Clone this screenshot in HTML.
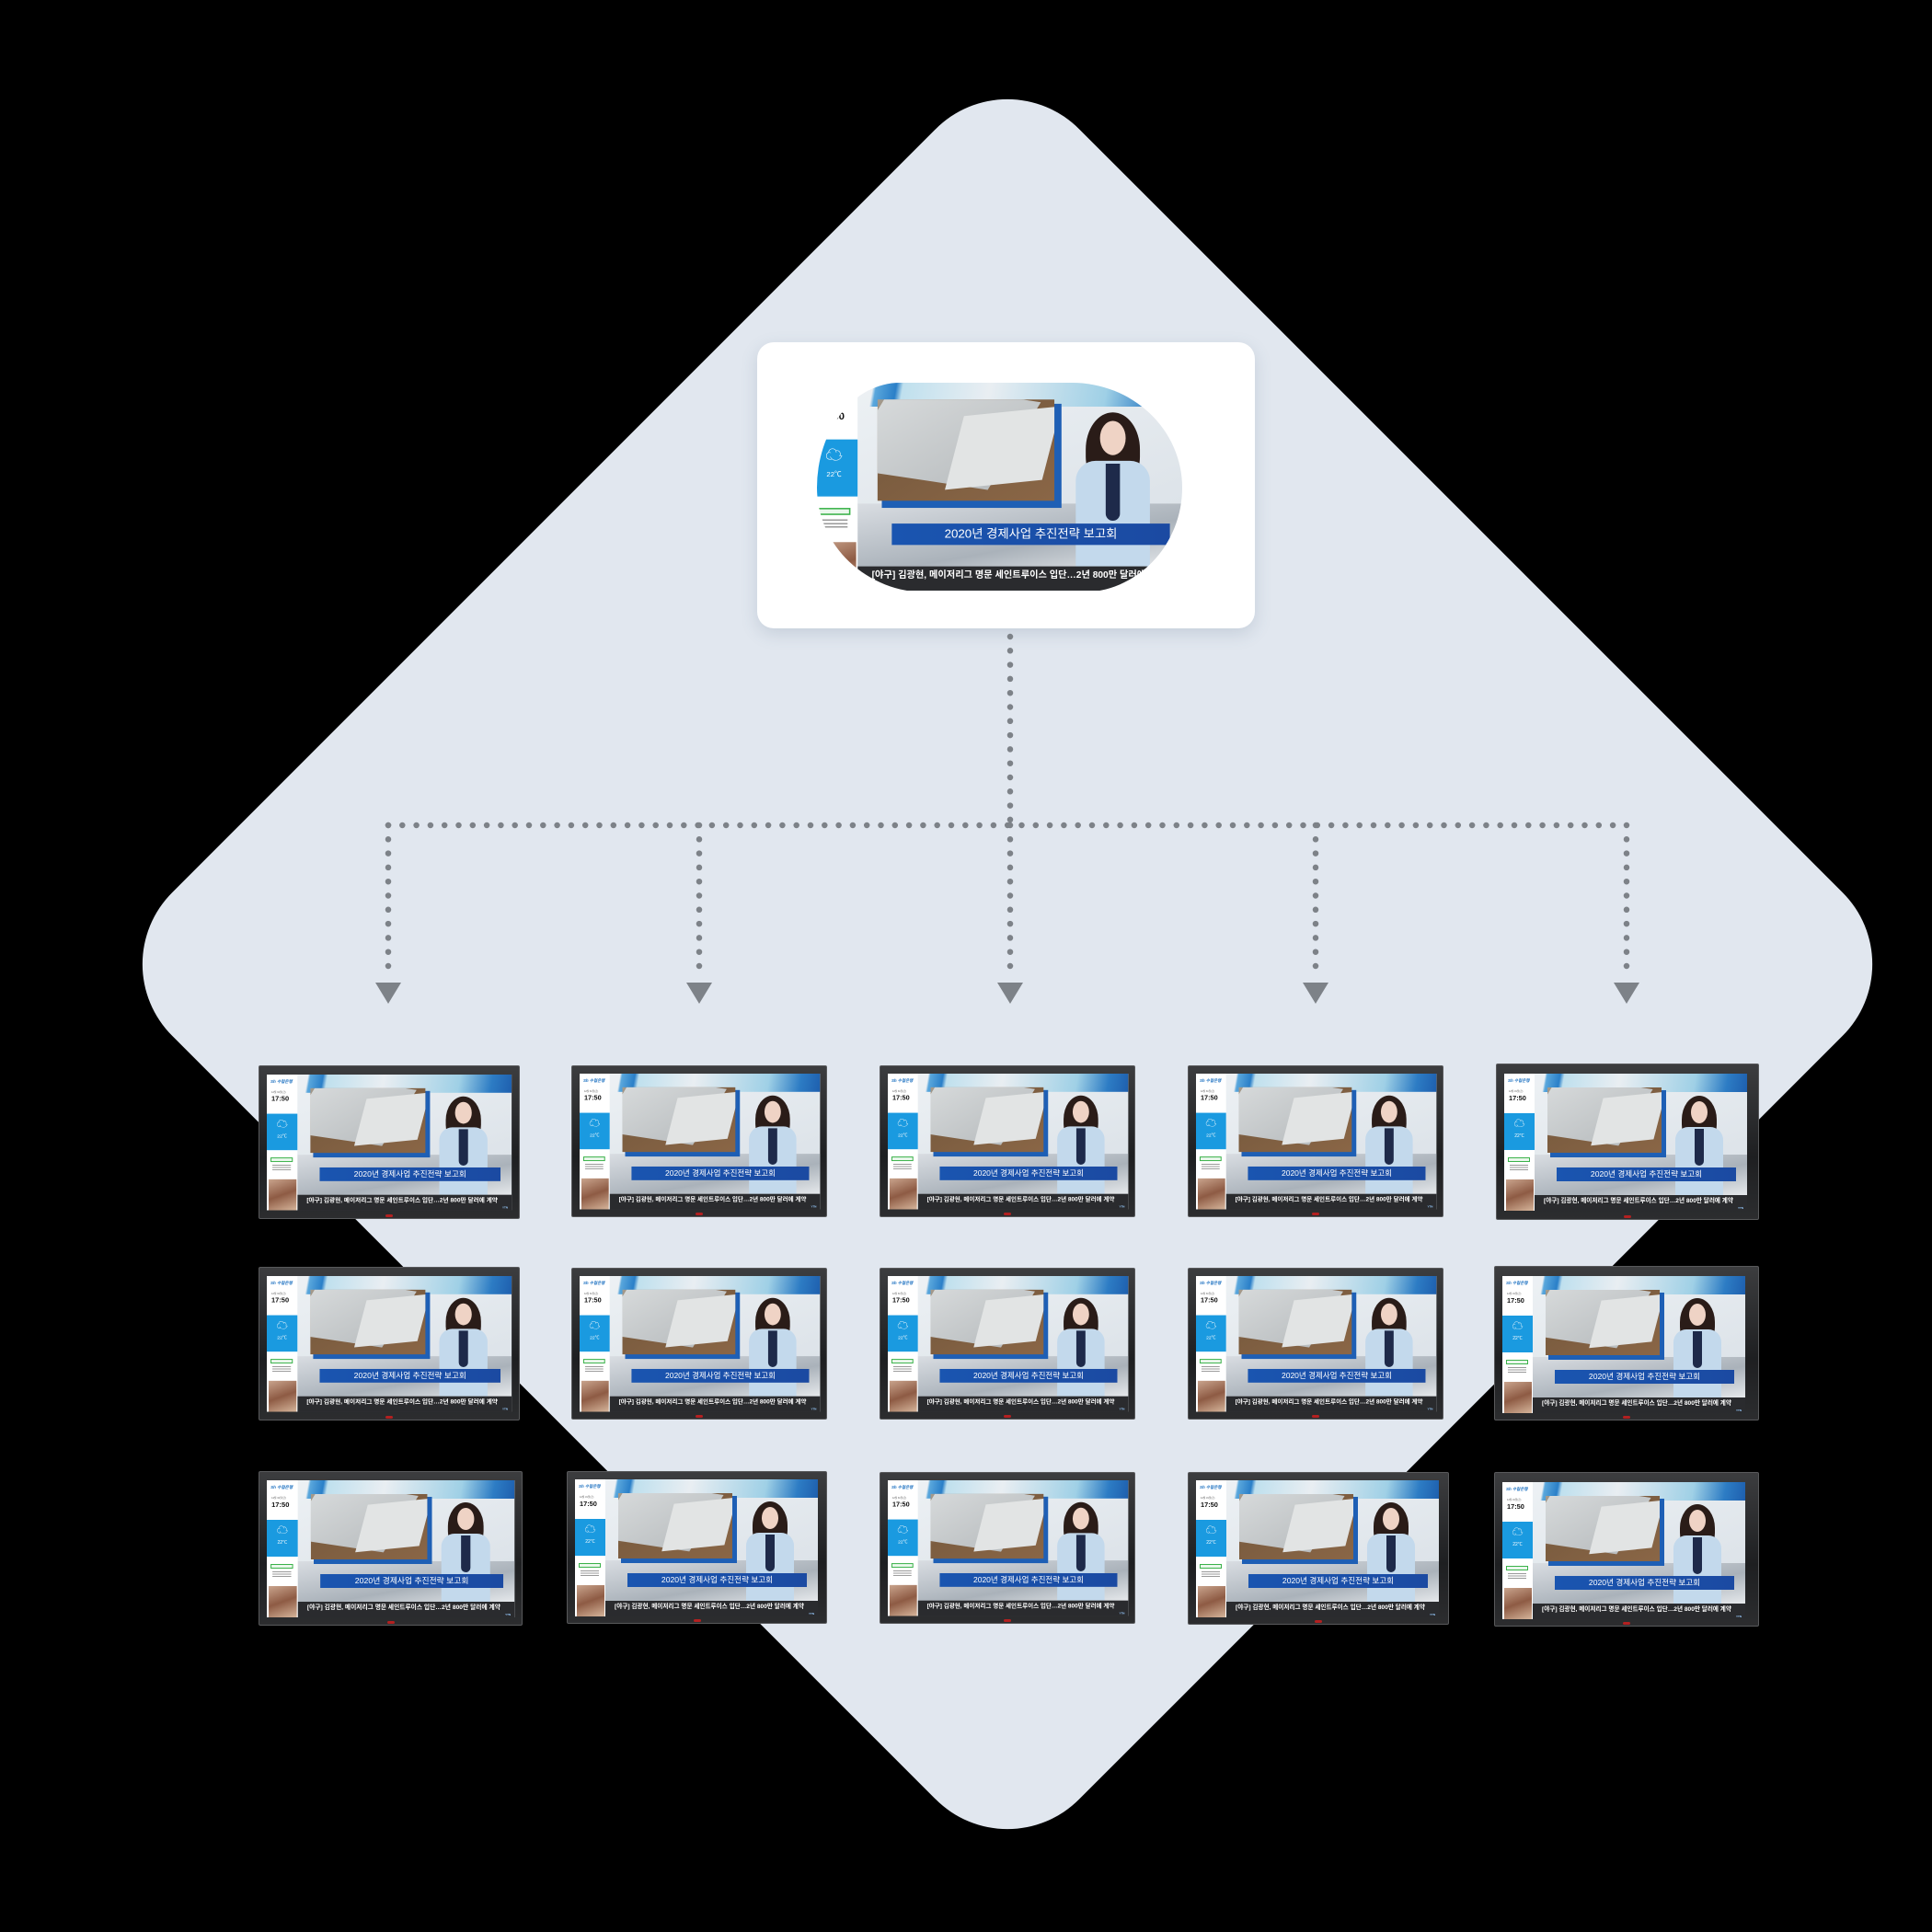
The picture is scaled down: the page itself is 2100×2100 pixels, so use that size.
<!DOCTYPE html>
<html><head><meta charset="utf-8">
<style>
*{margin:0;padding:0;box-sizing:border-box}
body{width:2100px;height:2100px;background:#000;position:relative;overflow:hidden;font-family:"Liberation Sans","Noto Sans CJK KR",sans-serif}
.dia{position:absolute;left:398px;top:351px;width:1394px;height:1394px;background:#e1e7ef;border-radius:110px;transform:rotate(45deg)}
.card{position:absolute;left:823px;top:372px;width:541px;height:311px;background:#fff;border-radius:18px;box-shadow:0 6px 18px rgba(80,100,130,.18)}
.mask{position:absolute;left:888px;top:416px;width:397px;height:228px;overflow:hidden;border-radius:90px 120px 110px 120px/114px 114px 114px 114px}
.tv{position:absolute;background:linear-gradient(#3c3d3f,#1e1f21 60%,#2c2d2f);border:1px solid #58595b;border-radius:2px}
.tv .led{position:absolute;left:50%;bottom:1px;width:8px;height:3px;margin-left:-4px;background:#b32020;border-radius:2px}
.s{position:absolute;left:0;top:0;width:264px;height:149px;overflow:hidden;transform-origin:0 0;background:linear-gradient(160deg,#eef2f5,#d7dee5)}
.s .stripe{position:absolute;left:33px;top:0;width:231px;height:20px;background:linear-gradient(100deg,transparent 5%,#5aa7dc 6%,#2a7fc8 12%,#bfe0ee 14%,#e9eef2 40%,#9fd0e6 75%,#2d7cc4 90%,#1e5fae)}
.s .floor{position:absolute;left:33px;top:88px;width:231px;height:44px;background:linear-gradient(170deg,#d9dde2,#aab2ba 60%,#e5e8eb)}
.s .bfr{position:absolute;left:50px;top:18px;width:126px;height:73px;background:#1e5fb5}
.s .book{position:absolute;left:47px;top:15px;width:124px;height:71px;background:linear-gradient(150deg,#a59c8f,#7c5d40 40%,#8a6646);overflow:hidden}
.s .pg{position:absolute;left:-10px;top:-6px;width:110px;height:62px;background:linear-gradient(135deg,#d8dbdc,#b9bdbf);transform:skewX(-25deg) rotate(8deg)}
.s .pg2{position:absolute;left:55px;top:8px;width:66px;height:52px;background:#e2e4e4;transform:skewX(-20deg) rotate(-6deg)}
.s .hair{position:absolute;left:193px;top:24px;width:38px;height:52px;background:#2a1c18;border-radius:50% 50% 40% 40%}
.s .face{position:absolute;left:203px;top:30px;width:18px;height:24px;background:#efd3c5;border-radius:50%}
.s .body{position:absolute;left:186px;top:58px;width:52px;height:74px;background:#c3d9ec;border-radius:14px 14px 0 0}
.s .in{position:absolute;left:207px;top:60px;width:10px;height:40px;background:#1e2a4a;border-radius:0 0 5px 5px}
.s .cap{position:absolute;left:57px;top:102px;width:195px;height:15px;background:linear-gradient(90deg,#1a55b0,#1b4aa2);color:#fff;font-size:8.6px;line-height:15px;text-align:center;white-space:nowrap}
.s .tick{position:absolute;left:33px;top:132px;width:231px;height:17px;background:#2a2b2e;color:#fff;font-size:6.6px;line-height:14px;padding-left:10px;white-space:nowrap;font-weight:bold}
.s .tick b{position:absolute;right:4px;bottom:1px;font-size:3px;line-height:4px;color:#9cf}
.s .side{position:absolute;left:0;top:0;width:33px;height:149px;background:#fff}
.s .logo{position:absolute;left:4px;top:5px;font-size:4.5px;color:#1a6fc0;font-style:italic;font-weight:bold;white-space:nowrap}
.s .dt{position:absolute;left:5px;top:17px;font-size:2.6px;color:#555}
.s .tm{position:absolute;left:5px;top:22px;font-size:7.4px;font-weight:bold;color:#111}
.s .wb{position:absolute;left:0;top:43px;width:33px;height:40px;background:#1a9ae0;color:#fff;text-align:center}
.s .wb i{display:block;font-style:normal;font-size:12px;line-height:14px;margin-top:4px}
.s .wb span{display:block;font-size:5px;margin-top:3px}
.s .gb{position:absolute;left:4px;top:91px;width:24px;height:5px;border:1px solid #3bb24a;background:#eaf7ec}
.s .tx{position:absolute;left:6px;top:99px;width:20px;height:6px;background:repeating-linear-gradient(#999 0 1px,transparent 1px 2.5px)}
.s .ad{position:absolute;left:2px;top:115px;width:30px;height:34px;background:linear-gradient(160deg,#c9a48d,#8e5b44 50%,#d5b49a)}
</style></head><body>
<div class="dia"></div>
<div class="card"></div>
<div class="mask"><div class="s" style="left:-7px;top:-5px;transform:scale(1.55)"><div class="stripe"></div><div class="floor"></div><div class="bfr"></div><div class="book"><div class="pg"></div><div class="pg2"></div></div><div class="hair"></div><div class="body"></div><div class="in"></div><div class="face"></div><div class="cap">2020년 경제사업 추진전략 보고회</div><div class="tick">[야구] 김광현, 메이저리그 명문 세인트루이스 입단…2년 800만 달러에 계약<b>YTN</b></div><div class="side"><div class="logo">Sh 수협은행</div><div class="dt">12월 31일(금)</div><div class="tm">17:50</div><div class="wb"><i>☁</i><span>22℃</span></div><div class="gb"></div><div class="tx"></div><div class="ad"></div></div></div></div>

<svg style="position:absolute;left:0;top:0" width="2100" height="2100">
<g stroke="#7d8288" stroke-width="6.5" stroke-linecap="round" stroke-dasharray="0 15.3" fill="none">
<line x1="1098" y1="692" x2="1098" y2="897"/>
<line x1="422" y1="897" x2="1768" y2="897"/>
<line x1="422" y1="897" x2="422" y2="1060"/>
<line x1="760" y1="897" x2="760" y2="1060"/>
<line x1="1098" y1="897" x2="1098" y2="1060"/>
<line x1="1430" y1="897" x2="1430" y2="1060"/>
<line x1="1768" y1="897" x2="1768" y2="1060"/>
</g>
<g fill="#7d8288">
<polygon points="408,1068 436,1068 422,1091"/>
<polygon points="746,1068 774,1068 760,1091"/>
<polygon points="1084,1068 1112,1068 1098,1091"/>
<polygon points="1416,1068 1444,1068 1430,1091"/>
<polygon points="1754,1068 1782,1068 1768,1091"/>
</g>
</svg>

<div class="tv" style="left:281px;top:1158px;width:284px;height:167px"><div class="s" style="left:8px;top:9px;transform:scale(1.008,0.99)"><div class="stripe"></div><div class="floor"></div><div class="bfr"></div><div class="book"><div class="pg"></div><div class="pg2"></div></div><div class="hair"></div><div class="body"></div><div class="in"></div><div class="face"></div><div class="cap">2020년 경제사업 추진전략 보고회</div><div class="tick">[야구] 김광현, 메이저리그 명문 세인트루이스 입단…2년 800만 달러에 계약<b>YTN</b></div><div class="side"><div class="logo">Sh 수협은행</div><div class="dt">12월 31일(금)</div><div class="tm">17:50</div><div class="wb"><i>☁</i><span>22℃</span></div><div class="gb"></div><div class="tx"></div><div class="ad"></div></div></div><div class="led"></div></div>
<div class="tv" style="left:621px;top:1158px;width:278px;height:165px"><div class="s" style="left:8px;top:8px;transform:scale(0.99,0.99)"><div class="stripe"></div><div class="floor"></div><div class="bfr"></div><div class="book"><div class="pg"></div><div class="pg2"></div></div><div class="hair"></div><div class="body"></div><div class="in"></div><div class="face"></div><div class="cap">2020년 경제사업 추진전략 보고회</div><div class="tick">[야구] 김광현, 메이저리그 명문 세인트루이스 입단…2년 800만 달러에 계약<b>YTN</b></div><div class="side"><div class="logo">Sh 수협은행</div><div class="dt">12월 31일(금)</div><div class="tm">17:50</div><div class="wb"><i>☁</i><span>22℃</span></div><div class="gb"></div><div class="tx"></div><div class="ad"></div></div></div><div class="led"></div></div>
<div class="tv" style="left:956px;top:1158px;width:278px;height:165px"><div class="s" style="left:8px;top:8px;transform:scale(0.99,0.99)"><div class="stripe"></div><div class="floor"></div><div class="bfr"></div><div class="book"><div class="pg"></div><div class="pg2"></div></div><div class="hair"></div><div class="body"></div><div class="in"></div><div class="face"></div><div class="cap">2020년 경제사업 추진전략 보고회</div><div class="tick">[야구] 김광현, 메이저리그 명문 세인트루이스 입단…2년 800만 달러에 계약<b>YTN</b></div><div class="side"><div class="logo">Sh 수협은행</div><div class="dt">12월 31일(금)</div><div class="tm">17:50</div><div class="wb"><i>☁</i><span>22℃</span></div><div class="gb"></div><div class="tx"></div><div class="ad"></div></div></div><div class="led"></div></div>
<div class="tv" style="left:1291px;top:1158px;width:278px;height:165px"><div class="s" style="left:8px;top:8px;transform:scale(0.99,0.99)"><div class="stripe"></div><div class="floor"></div><div class="bfr"></div><div class="book"><div class="pg"></div><div class="pg2"></div></div><div class="hair"></div><div class="body"></div><div class="in"></div><div class="face"></div><div class="cap">2020년 경제사업 추진전략 보고회</div><div class="tick">[야구] 김광현, 메이저리그 명문 세인트루이스 입단…2년 800만 달러에 계약<b>YTN</b></div><div class="side"><div class="logo">Sh 수협은행</div><div class="dt">12월 31일(금)</div><div class="tm">17:50</div><div class="wb"><i>☁</i><span>22℃</span></div><div class="gb"></div><div class="tx"></div><div class="ad"></div></div></div><div class="led"></div></div>
<div class="tv" style="left:1626px;top:1156px;width:286px;height:170px"><div class="s" style="left:8px;top:10px;transform:scale(1.0,1.0)"><div class="stripe"></div><div class="floor"></div><div class="bfr"></div><div class="book"><div class="pg"></div><div class="pg2"></div></div><div class="hair"></div><div class="body"></div><div class="in"></div><div class="face"></div><div class="cap">2020년 경제사업 추진전략 보고회</div><div class="tick">[야구] 김광현, 메이저리그 명문 세인트루이스 입단…2년 800만 달러에 계약<b>YTN</b></div><div class="side"><div class="logo">Sh 수협은행</div><div class="dt">12월 31일(금)</div><div class="tm">17:50</div><div class="wb"><i>☁</i><span>22℃</span></div><div class="gb"></div><div class="tx"></div><div class="ad"></div></div></div><div class="led"></div></div>

<div class="tv" style="left:281px;top:1377px;width:284px;height:167px"><div class="s" style="left:8px;top:9px;transform:scale(1.008,0.99)"><div class="stripe"></div><div class="floor"></div><div class="bfr"></div><div class="book"><div class="pg"></div><div class="pg2"></div></div><div class="hair"></div><div class="body"></div><div class="in"></div><div class="face"></div><div class="cap">2020년 경제사업 추진전략 보고회</div><div class="tick">[야구] 김광현, 메이저리그 명문 세인트루이스 입단…2년 800만 달러에 계약<b>YTN</b></div><div class="side"><div class="logo">Sh 수협은행</div><div class="dt">12월 31일(금)</div><div class="tm">17:50</div><div class="wb"><i>☁</i><span>22℃</span></div><div class="gb"></div><div class="tx"></div><div class="ad"></div></div></div><div class="led"></div></div>
<div class="tv" style="left:621px;top:1378px;width:278px;height:165px"><div class="s" style="left:8px;top:8px;transform:scale(0.99,0.99)"><div class="stripe"></div><div class="floor"></div><div class="bfr"></div><div class="book"><div class="pg"></div><div class="pg2"></div></div><div class="hair"></div><div class="body"></div><div class="in"></div><div class="face"></div><div class="cap">2020년 경제사업 추진전략 보고회</div><div class="tick">[야구] 김광현, 메이저리그 명문 세인트루이스 입단…2년 800만 달러에 계약<b>YTN</b></div><div class="side"><div class="logo">Sh 수협은행</div><div class="dt">12월 31일(금)</div><div class="tm">17:50</div><div class="wb"><i>☁</i><span>22℃</span></div><div class="gb"></div><div class="tx"></div><div class="ad"></div></div></div><div class="led"></div></div>
<div class="tv" style="left:956px;top:1378px;width:278px;height:165px"><div class="s" style="left:8px;top:8px;transform:scale(0.99,0.99)"><div class="stripe"></div><div class="floor"></div><div class="bfr"></div><div class="book"><div class="pg"></div><div class="pg2"></div></div><div class="hair"></div><div class="body"></div><div class="in"></div><div class="face"></div><div class="cap">2020년 경제사업 추진전략 보고회</div><div class="tick">[야구] 김광현, 메이저리그 명문 세인트루이스 입단…2년 800만 달러에 계약<b>YTN</b></div><div class="side"><div class="logo">Sh 수협은행</div><div class="dt">12월 31일(금)</div><div class="tm">17:50</div><div class="wb"><i>☁</i><span>22℃</span></div><div class="gb"></div><div class="tx"></div><div class="ad"></div></div></div><div class="led"></div></div>
<div class="tv" style="left:1291px;top:1378px;width:278px;height:165px"><div class="s" style="left:8px;top:8px;transform:scale(0.99,0.99)"><div class="stripe"></div><div class="floor"></div><div class="bfr"></div><div class="book"><div class="pg"></div><div class="pg2"></div></div><div class="hair"></div><div class="body"></div><div class="in"></div><div class="face"></div><div class="cap">2020년 경제사업 추진전략 보고회</div><div class="tick">[야구] 김광현, 메이저리그 명문 세인트루이스 입단…2년 800만 달러에 계약<b>YTN</b></div><div class="side"><div class="logo">Sh 수협은행</div><div class="dt">12월 31일(금)</div><div class="tm">17:50</div><div class="wb"><i>☁</i><span>22℃</span></div><div class="gb"></div><div class="tx"></div><div class="ad"></div></div></div><div class="led"></div></div>
<div class="tv" style="left:1624px;top:1376px;width:288px;height:168px"><div class="s" style="left:8px;top:10px;transform:scale(1.0,1.0)"><div class="stripe"></div><div class="floor"></div><div class="bfr"></div><div class="book"><div class="pg"></div><div class="pg2"></div></div><div class="hair"></div><div class="body"></div><div class="in"></div><div class="face"></div><div class="cap">2020년 경제사업 추진전략 보고회</div><div class="tick">[야구] 김광현, 메이저리그 명문 세인트루이스 입단…2년 800만 달러에 계약<b>YTN</b></div><div class="side"><div class="logo">Sh 수협은행</div><div class="dt">12월 31일(금)</div><div class="tm">17:50</div><div class="wb"><i>☁</i><span>22℃</span></div><div class="gb"></div><div class="tx"></div><div class="ad"></div></div></div><div class="led"></div></div>

<div class="tv" style="left:281px;top:1599px;width:287px;height:168px"><div class="s" style="left:8px;top:9px;transform:scale(1.02,1.0)"><div class="stripe"></div><div class="floor"></div><div class="bfr"></div><div class="book"><div class="pg"></div><div class="pg2"></div></div><div class="hair"></div><div class="body"></div><div class="in"></div><div class="face"></div><div class="cap">2020년 경제사업 추진전략 보고회</div><div class="tick">[야구] 김광현, 메이저리그 명문 세인트루이스 입단…2년 800만 달러에 계약<b>YTN</b></div><div class="side"><div class="logo">Sh 수협은행</div><div class="dt">12월 31일(금)</div><div class="tm">17:50</div><div class="wb"><i>☁</i><span>22℃</span></div><div class="gb"></div><div class="tx"></div><div class="ad"></div></div></div><div class="led"></div></div>
<div class="tv" style="left:616px;top:1599px;width:283px;height:166px"><div class="s" style="left:8px;top:8px;transform:scale(1.0,1.0)"><div class="stripe"></div><div class="floor"></div><div class="bfr"></div><div class="book"><div class="pg"></div><div class="pg2"></div></div><div class="hair"></div><div class="body"></div><div class="in"></div><div class="face"></div><div class="cap">2020년 경제사업 추진전략 보고회</div><div class="tick">[야구] 김광현, 메이저리그 명문 세인트루이스 입단…2년 800만 달러에 계약<b>YTN</b></div><div class="side"><div class="logo">Sh 수협은행</div><div class="dt">12월 31일(금)</div><div class="tm">17:50</div><div class="wb"><i>☁</i><span>22℃</span></div><div class="gb"></div><div class="tx"></div><div class="ad"></div></div></div><div class="led"></div></div>
<div class="tv" style="left:956px;top:1600px;width:278px;height:165px"><div class="s" style="left:8px;top:8px;transform:scale(0.99,0.99)"><div class="stripe"></div><div class="floor"></div><div class="bfr"></div><div class="book"><div class="pg"></div><div class="pg2"></div></div><div class="hair"></div><div class="body"></div><div class="in"></div><div class="face"></div><div class="cap">2020년 경제사업 추진전략 보고회</div><div class="tick">[야구] 김광현, 메이저리그 명문 세인트루이스 입단…2년 800만 달러에 계약<b>YTN</b></div><div class="side"><div class="logo">Sh 수협은행</div><div class="dt">12월 31일(금)</div><div class="tm">17:50</div><div class="wb"><i>☁</i><span>22℃</span></div><div class="gb"></div><div class="tx"></div><div class="ad"></div></div></div><div class="led"></div></div>
<div class="tv" style="left:1291px;top:1600px;width:284px;height:166px"><div class="s" style="left:8px;top:8px;transform:scale(1.0,1.0)"><div class="stripe"></div><div class="floor"></div><div class="bfr"></div><div class="book"><div class="pg"></div><div class="pg2"></div></div><div class="hair"></div><div class="body"></div><div class="in"></div><div class="face"></div><div class="cap">2020년 경제사업 추진전략 보고회</div><div class="tick">[야구] 김광현, 메이저리그 명문 세인트루이스 입단…2년 800만 달러에 계약<b>YTN</b></div><div class="side"><div class="logo">Sh 수협은행</div><div class="dt">12월 31일(금)</div><div class="tm">17:50</div><div class="wb"><i>☁</i><span>22℃</span></div><div class="gb"></div><div class="tx"></div><div class="ad"></div></div></div><div class="led"></div></div>
<div class="tv" style="left:1624px;top:1600px;width:288px;height:168px"><div class="s" style="left:8px;top:10px;transform:scale(1.0,1.0)"><div class="stripe"></div><div class="floor"></div><div class="bfr"></div><div class="book"><div class="pg"></div><div class="pg2"></div></div><div class="hair"></div><div class="body"></div><div class="in"></div><div class="face"></div><div class="cap">2020년 경제사업 추진전략 보고회</div><div class="tick">[야구] 김광현, 메이저리그 명문 세인트루이스 입단…2년 800만 달러에 계약<b>YTN</b></div><div class="side"><div class="logo">Sh 수협은행</div><div class="dt">12월 31일(금)</div><div class="tm">17:50</div><div class="wb"><i>☁</i><span>22℃</span></div><div class="gb"></div><div class="tx"></div><div class="ad"></div></div></div><div class="led"></div></div>
</body></html>
